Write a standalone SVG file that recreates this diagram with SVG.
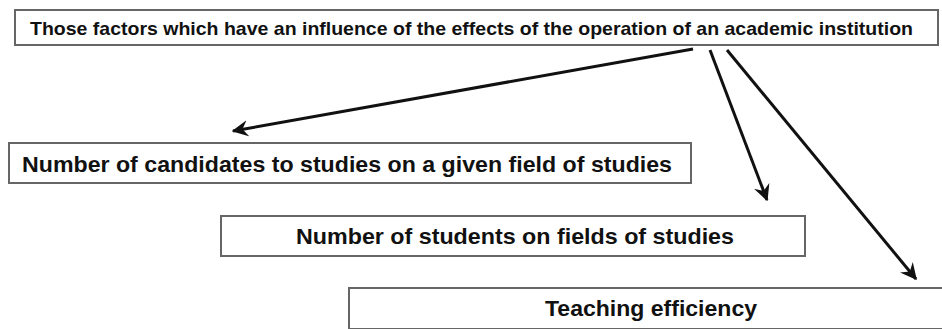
<svg xmlns="http://www.w3.org/2000/svg" width="942" height="329" viewBox="0 0 942 329">
  <style>
    .box { fill: #ffffff; stroke: #666666; stroke-width: 2; }
    .lbl { font-family: "Liberation Sans", Arial, sans-serif; font-weight: bold; fill: #111111; }
    .conn { stroke: #111111; stroke-width: 3; fill: none; marker-end: url(#arr); }
  </style>
  <defs>
    <marker id="arr" viewBox="0 0 12 12" refX="11" refY="6" markerWidth="5.5" markerHeight="5.5" orient="auto" markerUnits="strokeWidth">
      <path d="M0,0 L12,6 L0,12 L4,6 z" fill="#111111"/>
    </marker>
  </defs>
  <rect width="942" height="329" fill="#ffffff"/>
  <g id="node-top">
    <rect class="box" x="15" y="10" width="923" height="35"/>
    <text class="lbl" x="30" y="35" font-size="18.5" textLength="883" lengthAdjust="spacingAndGlyphs">Those factors which have an influence of the effects of the operation of an academic institution</text>
  </g>
  <g id="node-candidates">
    <rect class="box" x="9" y="143" width="682" height="40"/>
    <text class="lbl" x="22" y="172" font-size="21.5" textLength="650" lengthAdjust="spacingAndGlyphs">Number of candidates to studies on a given field of studies</text>
  </g>
  <g id="node-students">
    <rect class="box" x="221" y="216" width="584" height="40"/>
    <text class="lbl" x="296" y="244" font-size="21.5" textLength="438" lengthAdjust="spacingAndGlyphs">Number of students on fields of studies</text>
  </g>
  <g id="node-teaching">
    <rect class="box" x="349" y="288" width="610" height="41"/>
    <text class="lbl" x="545" y="316" font-size="21.5" textLength="212" lengthAdjust="spacingAndGlyphs">Teaching efficiency</text>
  </g>
  <g id="connectors">
    <line class="conn" x1="693" y1="49" x2="233" y2="131"/>
    <line class="conn" x1="710" y1="50" x2="767" y2="200"/>
    <line class="conn" x1="727" y1="50" x2="916" y2="279"/>
  </g>
</svg>
